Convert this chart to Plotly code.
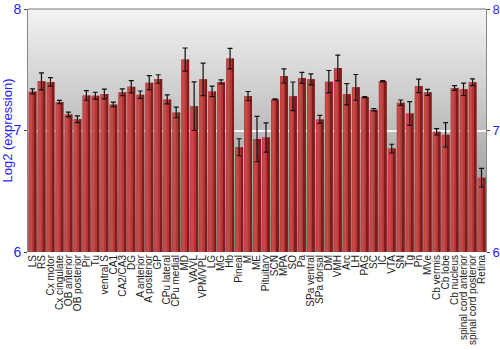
import plotly.graph_objects as go

categories = ["LS", "RS", "Cx motor", "Cx cingulate", "OB anterior", "OB posterior", "Pir", "Tu",
              "ventral S", "CA1", "CA2/CA3", "DG", "A anterior", "A posterior", "GP", "CPu lateral",
              "CPu medial", "MD", "VA/VL", "VPM/VPL", "LG", "MG", "Hb", "Pineal", "M", "ME",
              "Pituitary", "SCN", "MPA", "SO", "Pa", "SPa ventral", "SPa dorsal", "DM", "VMH", "Arc",
              "LH", "PAG", "SC", "IC", "VTA", "SN", "Tg", "Pn", "MVe", "Cb vermis", "Cb lobe",
              "Cb nucleus", "spinal cord anterior", "spinal cord posterior", "Retina"]
values = [7.322, 7.405, 7.400, 7.234, 7.132, 7.093, 7.289, 7.287, 7.300, 7.215, 7.314, 7.360,
          7.295, 7.394, 7.424, 7.256, 7.149, 7.584, 7.200, 7.421, 7.322, 7.400, 7.592, 6.862,
          7.284, 6.930, 6.942, 7.256, 7.449, 7.281, 7.433, 7.421, 7.091, 7.402, 7.515, 7.298,
          7.355, 7.275, 7.171, 7.405, 6.851, 7.229, 7.140, 7.367, 7.314, 6.989, 6.964, 7.350,
          7.339, 7.397, 6.612]
errors = [0.020, 0.070, 0.035, 0.014, 0.020, 0.028, 0.040, 0.028, 0.040, 0.018, 0.028, 0.050,
          0.030, 0.058, 0.035, 0.037, 0.044, 0.095, 0.200, 0.134, 0.044, 0.017, 0.084, 0.070,
          0.037, 0.187, 0.120, 0.005, 0.058, 0.118, 0.045, 0.045, 0.033, 0.092, 0.106, 0.087,
          0.106, 0.005, 0.010, 0.006, 0.036, 0.022, 0.098, 0.056, 0.025, 0.026, 0.100, 0.020,
          0.051, 0.028, 0.077]
y_ticks = [6, 7, 8]

BLUE = "#1f1fff"
FONT = "Liberation Sans, Arial, sans-serif"

fig = go.Figure()
# bar body
fig.add_trace(go.Bar(x=categories, y=values, width=0.88, offset=-0.44,
                     marker=dict(color="#b23636", line=dict(width=0)), hoverinfo="skip"))
# left highlight
fig.add_trace(go.Bar(x=categories, y=values, width=0.34, offset=-0.38,
                     marker=dict(color="#c44a4a", line=dict(width=0)), hoverinfo="skip"))
# right shade
fig.add_trace(go.Bar(x=categories, y=values, width=0.22, offset=0.22,
                     marker=dict(color="#821c1c", line=dict(width=0)), hoverinfo="skip"))
# error bars
fig.add_trace(go.Scatter(x=categories, y=values, mode="markers",
                         marker=dict(color="rgba(0,0,0,0)", size=1),
                         error_y=dict(type="data", array=errors, visible=True,
                                      color="#111111", thickness=1.2, width=2.5),
                         hoverinfo="skip"))
# right axis carrier
fig.add_trace(go.Scatter(x=categories, y=values, yaxis="y2", mode="markers",
                         marker=dict(color="rgba(0,0,0,0)", size=1), hoverinfo="skip"))

svg = ("data:image/svg+xml;utf8,<svg xmlns='http://www.w3.org/2000/svg' width='10' height='100' "
       "preserveAspectRatio='none'><defs><linearGradient id='g' x1='0' y1='0' x2='0' y2='1'>"
       "<stop offset='0' stop-color='%23f3f3f3'/><stop offset='1' stop-color='%23858585'/>"
       "</linearGradient></defs><rect width='10' height='100' fill='url(%23g)'/></svg>")

fig.update_layout(
    width=500, height=350,
    margin=dict(l=28, r=14, t=9, b=98),
    paper_bgcolor="white", plot_bgcolor="rgba(0,0,0,0)",
    barmode="overlay", showlegend=False, bargap=0.1,
    font=dict(family=FONT, size=10, color="#222222"),
    xaxis=dict(type="category", tickangle=-90, tickfont=dict(size=10, color="#222222"),
               tickmode="array", tickvals=categories, ticktext=categories,
               showgrid=False, ticks="", showline=False, automargin=False,
               range=[-0.5, len(categories) - 0.5]),
    yaxis=dict(range=[6, 8], tickvals=y_ticks, ticktext=[str(v) for v in y_ticks],
               tickfont=dict(size=14, color=BLUE), ticks="outside", ticklen=3,
               tickcolor="#444444", showline=True, linecolor="#888888", linewidth=1,
               showgrid=True, gridcolor="rgba(255,255,255,0.85)", gridwidth=1.5,
               zeroline=False, automargin=False,
               title=dict(text="Log2 (expression)", font=dict(size=13, color=BLUE), standoff=2)),
    yaxis2=dict(range=[6, 8], tickvals=y_ticks, ticktext=[str(v) for v in y_ticks],
                overlaying="y", side="right", tickfont=dict(size=13, color=BLUE),
                ticks="outside", ticklen=3, tickcolor="#444444", showline=True,
                linecolor="#888888", linewidth=1, showgrid=False, zeroline=False,
                automargin=False),
    images=[dict(source=svg, xref="paper", yref="paper", x=0, y=1, sizex=1, sizey=1,
                 sizing="stretch", layer="below", xanchor="left", yanchor="top")],
    shapes=[dict(type="line", xref="paper", yref="paper", x0=0, x1=1, y0=1, y1=1,
                 line=dict(color="#777777", width=1))],
)

fig.write_html("out.html")
